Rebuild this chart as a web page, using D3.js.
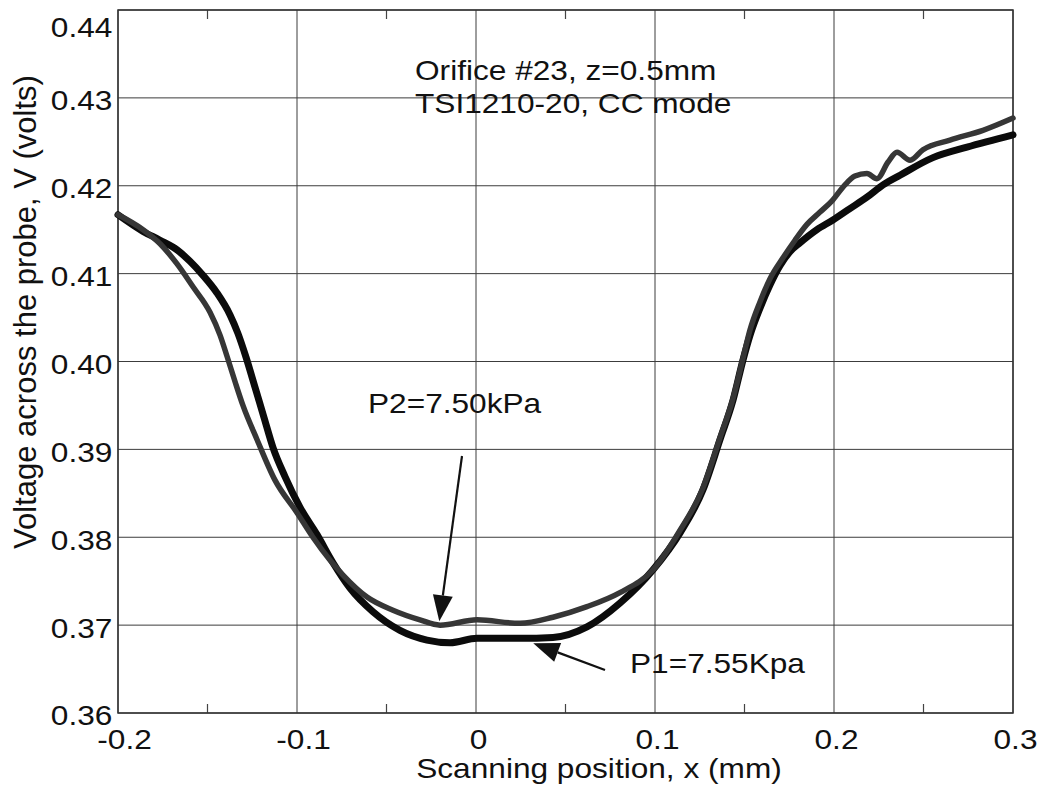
<!DOCTYPE html>
<html>
<head>
<meta charset="utf-8">
<script src="https://cdn.jsdelivr.net/npm/d3@7"></script>
<style>
  body { margin: 0; background: #fff; }
  svg { display: block; }
  text { font-family: "Liberation Sans", Arial, Helvetica, sans-serif; fill: #111; }
</style>
</head>
<body>
<svg id="chart" width="1044" height="795"></svg>
<script>
// Scan positions (mm) and probe voltages (V) for the two runs
const xP1 = [-0.2, -0.186, -0.1765, -0.167, -0.1598, -0.1525, -0.1447, -0.1374, -0.133, -0.1285,
             -0.1235, -0.1184, -0.1134, -0.1067, -0.0983, -0.0888, -0.0799, -0.0704, -0.0575, -0.0425,
             -0.0274, -0.0145, 0.0006, 0.0246, 0.043, 0.062, 0.0804, 0.0989, 0.114, 0.1268,
             0.1363, 0.1436, 0.1492, 0.1531, 0.1587, 0.1642, 0.1698, 0.1754, 0.181, 0.1905,
             0.1994, 0.2089, 0.2184, 0.2274, 0.2369, 0.2553, 0.2743, 0.3];
const vP1 = [0.4167, 0.4148, 0.4138, 0.4127, 0.4114, 0.4098, 0.4078, 0.4053, 0.4032, 0.4005,
             0.3971, 0.3936, 0.3902, 0.3869, 0.3834, 0.3803, 0.3771, 0.3742, 0.3715, 0.3694,
             0.3683, 0.3680, 0.3685, 0.3685, 0.3686, 0.3698, 0.3725, 0.3763, 0.3805, 0.3854,
             0.3911, 0.3956, 0.4002, 0.4030, 0.4061, 0.4087, 0.4109, 0.4125, 0.4135, 0.4150,
             0.4161, 0.4174, 0.4187, 0.4201, 0.4212, 0.4232, 0.4244, 0.4258];

const xP2 = [-0.2, -0.186, -0.1765, -0.167, -0.1581, -0.1486, -0.143, -0.1391, -0.1346, -0.1302,
             -0.1223, -0.1123, -0.1, -0.0911, -0.0816, -0.0743, -0.0609, -0.0464, -0.0313, -0.0201,
             0.0006, 0.0246, 0.043, 0.062, 0.0804, 0.0989, 0.114, 0.1268, 0.1363, 0.1436,
             0.1492, 0.1531, 0.1587, 0.1642, 0.1715, 0.1782, 0.1849, 0.1922, 0.1994, 0.2061,
             0.2117, 0.2184, 0.224, 0.2302, 0.2352, 0.2425, 0.2497, 0.2648, 0.2832, 0.3];
const vP2 = [0.4167, 0.4150, 0.4134, 0.4111, 0.4085, 0.4056, 0.4030, 0.4006, 0.3977, 0.3950,
             0.3911, 0.3865, 0.3828, 0.3800, 0.3774, 0.3757, 0.3732, 0.3717, 0.3706, 0.3700,
             0.3706, 0.3702, 0.3709, 0.3721, 0.3737, 0.3763, 0.3808, 0.3856, 0.3913, 0.3958,
             0.4004, 0.4036, 0.4068, 0.4094, 0.4118, 0.4138, 0.4156, 0.4170, 0.4184, 0.4201,
             0.4211, 0.4214, 0.4208, 0.4227, 0.4238, 0.4229, 0.4241, 0.4252, 0.4263, 0.4277];

const xTicks = [-0.2, -0.1, 0, 0.1, 0.2, 0.3];
const xMinorTicks = [-0.15, -0.05, 0.05, 0.15, 0.25];
const yTicks = [0.36, 0.37, 0.38, 0.39, 0.40, 0.41, 0.42, 0.43, 0.44];

const xTitle = "Scanning position, x (mm)";
const yTitle = "Voltage across the probe, V (volts)";
const noteLines = ["Orifice #23, z=0.5mm", "TSI1210-20, CC mode"];
const labelP2 = "P2=7.50kPa";
const labelP1 = "P1=7.55Kpa";

const svg = d3.select("#chart");
const L = 118, R = 1013, T = 10, B = 713;
const SX = 1.13;       // glyphs in this figure are set slightly wide
const FS = 28;

const x = d3.scaleLinear().domain([-0.2, 0.3]).range([L, R]);
const y = d3.scaleLinear().domain([0.36, 0.44]).range([B, T]);

// grid lines
const grid = svg.append("g").attr("stroke", "#3c3c3c").attr("stroke-width", 1);
grid.selectAll("line.gx").data(xTicks).join("line")
  .attr("x1", d => x(d)).attr("x2", d => x(d)).attr("y1", T).attr("y2", B);
grid.selectAll("line.gy").data(yTicks).join("line")
  .attr("x1", L).attr("x2", R).attr("y1", d => y(d)).attr("y2", d => y(d));

// minor ticks on top and bottom edges
const minor = svg.append("g").attr("stroke", "#444").attr("stroke-width", 1.2);
minor.selectAll("line.b").data(xMinorTicks).join("line")
  .attr("x1", d => x(d)).attr("x2", d => x(d)).attr("y1", B).attr("y2", B - 9);
minor.selectAll("line.t").data(xMinorTicks).join("line")
  .attr("x1", d => x(d)).attr("x2", d => x(d)).attr("y1", T).attr("y2", T + 9);

// frame
svg.append("rect").attr("x", L).attr("y", T).attr("width", R - L).attr("height", B - T)
  .attr("fill", "none").attr("stroke", "#333").attr("stroke-width", 1.5);

// tick labels via d3 axes (grid already drawn)
const xAxis = svg.append("g").attr("transform", `translate(0,${B})`)
  .call(d3.axisBottom(x).tickValues(xTicks).tickSize(0).tickPadding(16)
        .tickFormat(d => d === 0 ? "0" : d3.format(".1f")(d).replace("−", "-")));
xAxis.select(".domain").remove();
xAxis.selectAll("text")
  .attr("font-size", FS).attr("fill", "#111")
  .attr("transform", d => `translate(${d < 0 ? 6 : 2},0) scale(${SX},1)`);

const yAxis = svg.append("g").attr("transform", `translate(${L},0)`)
  .call(d3.axisLeft(y).tickValues(yTicks).tickSize(0).tickPadding(5).tickFormat(d3.format(".2f")));
yAxis.select(".domain").remove();
yAxis.selectAll("text")
  .attr("font-size", FS).attr("fill", "#111")
  .attr("transform", d => `translate(0,${Math.max(0, T + 15 - y(d)) + 3}) scale(${SX},1)`);

// series
const line = d3.line().x(d => x(d[0])).y(d => y(d[1])).curve(d3.curveMonotoneX);
const p1 = xP1.map((v, i) => [v, vP1[i]]);
const p2 = xP2.map((v, i) => [v, vP2[i]]);
svg.append("path").datum(p1).attr("d", line)
  .attr("fill", "none").attr("stroke", "#0b0b0b").attr("stroke-width", 7)
  .attr("stroke-linejoin", "round").attr("stroke-linecap", "round");
svg.append("path").datum(p2).attr("d", line)
  .attr("fill", "none").attr("stroke", "#363636").attr("stroke-width", 5.5)
  .attr("stroke-linejoin", "round").attr("stroke-linecap", "round");

// text helper with horizontal stretch
function addText(px, py, str, size, anchor) {
  return svg.append("text")
    .attr("transform", `translate(${px},${py}) scale(${SX},1)`)
    .attr("font-size", size).attr("text-anchor", anchor || "start").text(str);
}

addText(599, 778, xTitle, FS, "middle");
svg.append("text")
  .attr("transform", `translate(36,312) rotate(-90)`)
  .attr("font-size", 31).attr("text-anchor", "middle").text(yTitle);

addText(415, 80, noteLines[0], FS);
addText(415, 113, noteLines[1], FS);
addText(368, 413, labelP2, FS);
addText(630, 673, labelP1, FS);

// arrows pointing at the minima of each trace
function arrow(x0, y0, x1, y1) {
  const ang = Math.atan2(y1 - y0, x1 - x0);
  const len = 26, half = 10;
  const bx = x1 - len * Math.cos(ang), by = y1 - len * Math.sin(ang);
  svg.append("line").attr("x1", x0).attr("y1", y0).attr("x2", bx).attr("y2", by)
    .attr("stroke", "#111").attr("stroke-width", 2.2);
  const pts = [
    [x1, y1],
    [bx + half * Math.sin(ang), by - half * Math.cos(ang)],
    [bx - half * Math.sin(ang), by + half * Math.cos(ang)]
  ];
  svg.append("polygon").attr("points", pts.map(p => p.join(",")).join(" ")).attr("fill", "#111");
}
arrow(462, 456, x(-0.0205), y(0.3701) - 3);
arrow(605, 670, x(0.032), y(0.3685) + 5);
</script>
</body>
</html>
